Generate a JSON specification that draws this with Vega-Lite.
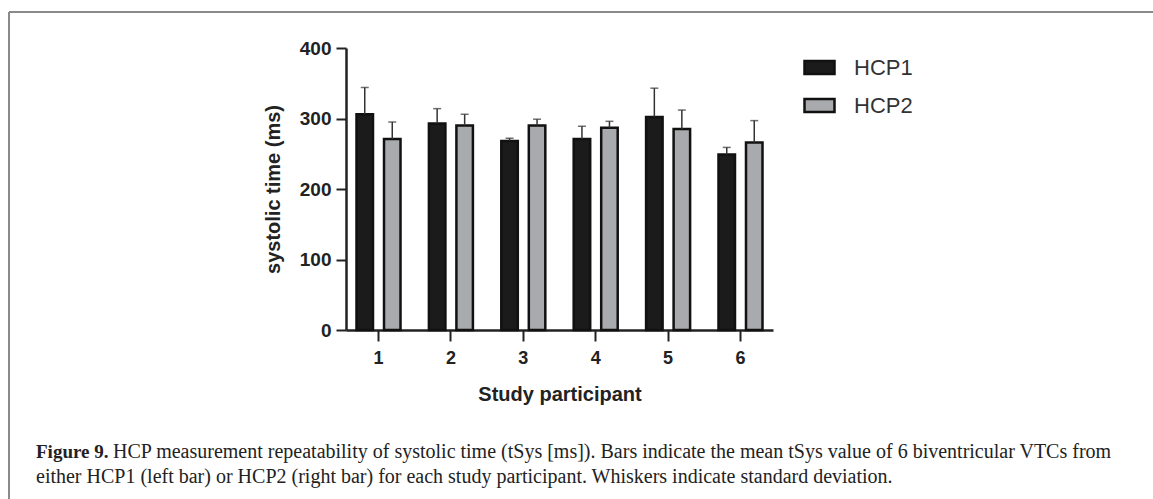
{
  "$schema": "https://vega.github.io/schema/vega-lite/v6.json",
  "autosize": {"type": "none"},
  "width": 427,
  "height": 282,
  "padding": {"left": 346, "top": 48, "right": 380, "bottom": 169},
  "background": "white",
  "config": {"view": {"stroke": null}, "font": "Liberation Sans"},
  "data": {"values": [
    {"participant": "1", "hcp": "HCP1", "mean": 306, "upper": 344},
    {"participant": "1", "hcp": "HCP2", "mean": 271, "upper": 295},
    {"participant": "2", "hcp": "HCP1", "mean": 293, "upper": 314},
    {"participant": "2", "hcp": "HCP2", "mean": 290, "upper": 306},
    {"participant": "3", "hcp": "HCP1", "mean": 268, "upper": 272},
    {"participant": "3", "hcp": "HCP2", "mean": 290, "upper": 299},
    {"participant": "4", "hcp": "HCP1", "mean": 271, "upper": 289},
    {"participant": "4", "hcp": "HCP2", "mean": 287, "upper": 296},
    {"participant": "5", "hcp": "HCP1", "mean": 302, "upper": 343},
    {"participant": "5", "hcp": "HCP2", "mean": 285, "upper": 312},
    {"participant": "6", "hcp": "HCP1", "mean": 249, "upper": 259},
    {"participant": "6", "hcp": "HCP2", "mean": 266, "upper": 297}
  ]},
  "encoding": {
    "x": {
      "field": "participant", "type": "nominal",
      "scale": {"paddingInner": 0.392, "paddingOuter": 0.145},
      "axis": {
        "title": "Study participant", "labelAngle": 0,
        "labelFont": "Liberation Sans", "labelFontSize": 18, "labelFontWeight": "bold", "labelColor": "#222",
        "tickSize": 11, "tickWidth": 2, "tickColor": "#222",
        "domainWidth": 2.5, "domainColor": "#222",
        "labelPadding": 8,
        "titleFont": "Liberation Sans", "titleFontSize": 20, "titleFontWeight": "bold", "titleColor": "#222",
        "titlePadding": 17
      }
    },
    "xOffset": {"field": "hcp", "type": "nominal", "scale": {"paddingInner": 0.4, "paddingOuter": 0}}
  },
  "layer": [
    {
      "mark": {"type": "bar", "stroke": "#111", "strokeWidth": 2.5},
      "encoding": {
        "y": {
          "field": "mean", "type": "quantitative",
          "scale": {"domain": [0, 400], "nice": false},
          "axis": {
            "title": "systolic time (ms)", "values": [0, 100, 200, 300, 400], "grid": false,
            "labelFont": "Liberation Sans", "labelFontSize": 19, "labelFontWeight": "bold", "labelColor": "#222",
            "tickSize": 10, "tickWidth": 2, "tickColor": "#222",
            "domainWidth": 2.5, "domainColor": "#222",
            "labelPadding": 5,
            "titleFont": "Liberation Sans", "titleFontSize": 20, "titleFontWeight": "bold", "titleColor": "#222",
            "titlePadding": 16
          }
        },
        "fill": {
          "field": "hcp", "type": "nominal",
          "scale": {"domain": ["HCP1", "HCP2"], "range": ["#1b1b1b", "#a9aaad"]},
          "legend": {
            "title": null, "orient": "none", "legendX": 457, "legendY": 3,
            "symbolType": "M-1,-0.43H1V0.43H-1Z", "symbolSize": 900,
            "symbolStrokeColor": "#111", "symbolStrokeWidth": 2.5, "symbolOpacity": 1,
            "labelFont": "Liberation Sans", "labelFontSize": 22, "labelColor": "#333",
            "labelOffset": 18, "rowPadding": 10
          }
        }
      }
    },
    {
      "mark": {"type": "rule", "color": "#333", "strokeWidth": 1.5},
      "encoding": {
        "y": {"field": "mean", "type": "quantitative"},
        "y2": {"field": "upper"}
      }
    },
    {
      "mark": {"type": "tick", "color": "#333", "thickness": 1.5, "size": 8},
      "encoding": {
        "y": {"field": "upper", "type": "quantitative"}
      }
    },
    {
      "data": {"values": [{}]},
      "mark": {"type": "rule", "color": "#8a8a8a", "strokeWidth": 2},
      "encoding": {"x": {"value": -337}, "x2": {"value": 807}, "y": {"value": -36}, "xOffset": null}
    },
    {
      "data": {"values": [{}]},
      "mark": {"type": "rule", "color": "#8a8a8a", "strokeWidth": 2},
      "encoding": {"x": {"value": -337}, "y": {"value": -36}, "y2": {"value": 451}, "xOffset": null}
    },
    {
      "data": {"values": [{}]},
      "mark": {"type": "text", "font": "Liberation Serif", "fontSize": 19, "fontWeight": "bold", "align": "left", "baseline": "middle", "color": "#222", "text": "Figure 9."},
      "encoding": {"x": {"value": -310}, "y": {"value": 404}, "xOffset": null}
    },
    {
      "data": {"values": [{}]},
      "mark": {"type": "text", "font": "Liberation Serif", "fontSize": 20, "align": "left", "baseline": "middle", "color": "#222", "text": "HCP measurement repeatability of systolic time (tSys [ms]). Bars indicate the mean tSys value of 6 biventricular VTCs from"},
      "encoding": {"x": {"value": -233}, "y": {"value": 404}, "xOffset": null}
    },
    {
      "data": {"values": [{}]},
      "mark": {"type": "text", "font": "Liberation Serif", "fontSize": 20, "align": "left", "baseline": "middle", "color": "#222", "text": "either HCP1 (left bar) or HCP2 (right bar) for each study participant. Whiskers indicate standard deviation."},
      "encoding": {"x": {"value": -310}, "y": {"value": 429}, "xOffset": null}
    }
  ]
}
